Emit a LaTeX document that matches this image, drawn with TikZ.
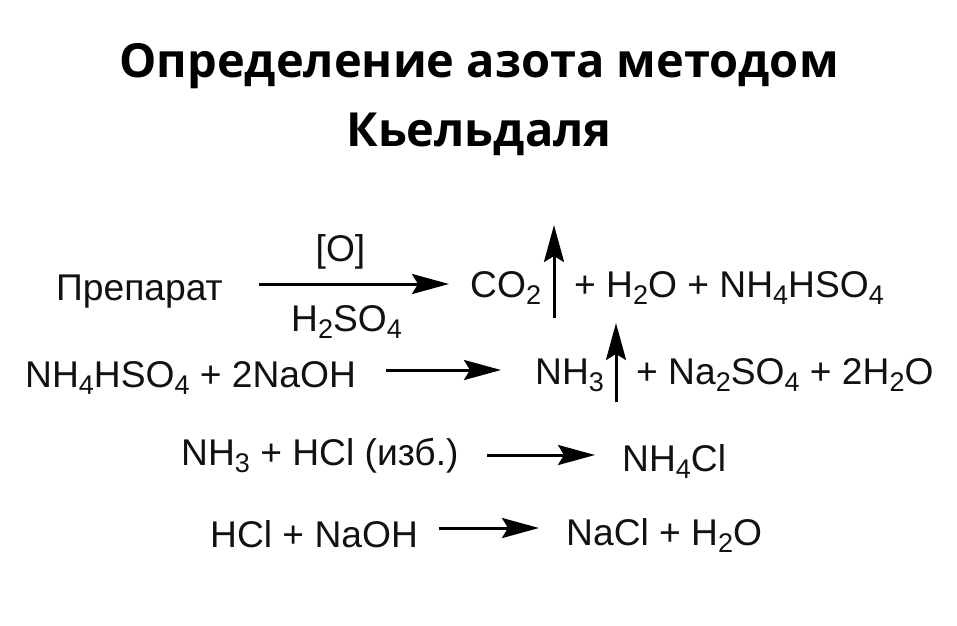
\documentclass[tikz,border=0pt]{standalone}
\usepackage{fontspec}
\setmainfont{Liberation Sans}
\newfontfamily\titlefont{Open Sans}
\usetikzlibrary{arrows.meta}
\definecolor{ink}{HTML}{111111}
\tikzset{
  chem/.style={anchor=base west,inner sep=0pt,font=\fontsize{37.2}{40}\selectfont,text=ink},
  ttl/.style={anchor=base,inner sep=0pt,font=\titlefont\bfseries\fontsize{47}{50}\selectfont,text=black},
  rxn/.style={line width=3pt,draw=black,-{Stealth[length=37pt,width=20pt,inset=6pt]}}
}
\newcommand{\sbb}[1]{\raisebox{-0.2em}{\fontsize{27}{28}\selectfont #1}}
\begin{document}
\begin{tikzpicture}[x=1pt,y=-1pt]
\useasboundingbox[fill=white] (0,0) rectangle (957,625);
\node[ttl] (t1) at (479,77) {Определение азота методом};
\node[ttl] (t2) at (479,146) {Кьельдаля};
\node[chem] (a1) at (56,300) {Препарат};
\node[chem] (o) at (315.5,261) {[O]};
\node[chem] (h) at (291,331) {H\sbb{2}SO\sbb{4}};
\node[chem] (a2) at (470,297) {CO\sbb{2}};
\node[chem] (a3) at (574,297) {+ H\sbb{2}O + NH\sbb{4}HSO\sbb{4}};
\node[chem] (b1) at (25,387) {NH\sbb{4}HSO\sbb{4} + 2NaOH};
\node[chem] (b2) at (535,384) {NH\sbb{3}};
\node[chem] (b3) at (636,384) {+ Na\sbb{2}SO\sbb{4} + 2H\sbb{2}O};
\node[chem] (c1) at (181,465) {NH\sbb{3} + HCl (изб.)};
\node[chem] (c2) at (622,471) {NH\sbb{4}Cl};
\node[chem] (d1) at (210,547) {HCl + NaOH};
\node[chem] (d2) at (566,545) {NaCl + H\sbb{2}O};
\coordinate (p1) at (259,284); \coordinate (p2) at (449,284);
\coordinate (q1) at (386,370); \coordinate (q2) at (501,370);
\coordinate (r1) at (487,455); \coordinate (r2) at (595,455);
\coordinate (s1) at (439,528); \coordinate (s2) at (539,528);
\coordinate (u1) at (554,318); \coordinate (u2) at (554,225);
\coordinate (v1) at (616,402); \coordinate (v2) at (616,323);
\draw[rxn] (p1) -- (p2);
\draw[rxn] (q1) -- (q2);
\draw[rxn] (r1) -- (r2);
\draw[rxn] (s1) -- (s2);
\draw[rxn] (u1) -- (u2);
\draw[rxn] (v1) -- (v2);
\end{tikzpicture}
\end{document}
